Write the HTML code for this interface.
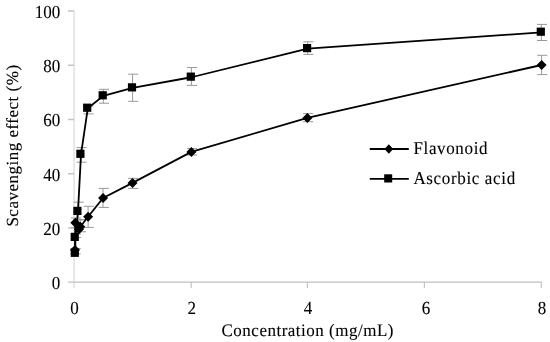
<!DOCTYPE html>
<html><head><meta charset="utf-8"><style>
html,body{margin:0;padding:0;background:#fff;width:550px;height:342px;overflow:hidden}
svg{display:block;filter:blur(0.35px)}
text{font-family:"Liberation Serif",serif;fill:#000;stroke:#000;stroke-width:0.1px;text-rendering:geometricPrecision}
</style></head><body>
<svg width="550" height="342" viewBox="0 0 550 342">
<rect width="550" height="342" fill="#fff"/>
<g fill="none">
<path d="M74.1 10.5V288" stroke="#e6e6e6" stroke-width="1.8"/>
<path d="M68 282.1H541.8" stroke="#c0c0c0" stroke-width="1.4"/>
<path d="M68 11H74M68 65.2H74M68 119.5H74M68 173.7H74M68 228H74" stroke="#c4c4c4" stroke-width="1.4"/>
<path d="M191.2 282V288M307.4 282V288M424.4 282V288M541.3 282V288" stroke="#c4c4c4" stroke-width="1.2"/>
</g>
<g font-size="17" text-anchor="end"><text transform="translate(60.2,289.00) scale(1,1.08)">0</text><text transform="translate(60.2,234.78) scale(1,1.08)">20</text><text transform="translate(60.2,180.56) scale(1,1.08)">40</text><text transform="translate(60.2,126.34) scale(1,1.08)">60</text><text transform="translate(60.2,72.12) scale(1,1.08)">80</text><text transform="translate(60.2,17.90) scale(1,1.08)">100</text></g>
<g font-size="17" text-anchor="middle"><text transform="translate(74.5,314.2) scale(1,1.08)">0</text><text transform="translate(191.75,314.2) scale(1,1.08)">2</text><text transform="translate(308.05,314.2) scale(1,1.08)">4</text><text transform="translate(425.9,314.2) scale(1,1.08)">6</text><text transform="translate(542.1,314.2) scale(1,1.08)">8</text></g>
<text transform="translate(221.5,336.3) scale(1,1.03)" font-size="17" letter-spacing="0.5">Concentration (mg/mL)</text>
<text transform="translate(18.4,226.6) rotate(-90)" font-size="17" letter-spacing="0.5">Scavenging effect (%)</text>
<path fill="none" stroke="#999999" stroke-width="1" d="M75.3 234.0V237.6M70.9 234.0H81.0M70.9 237.6H81.0M78.0 202.2V220.0M73.6 202.2H83.7M73.6 220.0H83.7M81.0 147.6V162.2M76.6 147.6H86.7M76.6 162.2H86.7M87.8 106.0V113.9M83.4 106.0H93.5M83.4 113.9H93.5M103.3 89.3V103.2M98.9 89.3H109.0M98.9 103.2H109.0M132.6 74.2V101.3M128.2 74.2H138.3M128.2 101.3H138.3M191.4 67.5V85.4M187.0 67.5H197.1M187.0 85.4H197.1M307.7 41.8V54.4M303.3 41.8H313.4M303.3 54.4H313.4M541.4 24.4V40.5M537.0 24.4H547.1M537.0 40.5H547.1M75.0 248.5V253.8M70.6 248.5H80.7M70.6 253.8H80.7M75.3 218.0V227.7M70.9 218.0H81.0M70.9 227.7H81.0M80.3 219.5V231.8M75.9 219.5H86.0M75.9 231.8H86.0M88.1 206.3V227.4M83.7 206.3H93.8M83.7 227.4H93.8M103.0 188.4V207.4M98.6 188.4H108.8M98.6 207.4H108.8M132.5 178.4V188.4M128.1 178.4H138.2M128.1 188.4H138.2M191.4 148.6V155.0M187.0 148.6H197.1M187.0 155.0H197.1M307.4 113.6V121.7M303.0 113.6H313.1M303.0 121.7H313.1M541.6 55.3V74.6M537.2 55.3H547.3M537.2 74.6H547.3"/>
<g fill="none" stroke="#000" stroke-width="1.8" stroke-linejoin="round">
<polyline points="75.40,253.40 75.35,237.50 78.00,211.50 81.00,154.40 87.80,108.30 103.30,95.90 132.60,87.95 191.40,77.25 307.70,48.70 541.40,32.30"/>
<polyline points="75.00,249.90 75.30,222.80 79.00,229.20 80.30,226.80 88.10,216.70 103.05,198.00 132.50,182.90 191.40,151.90 307.40,117.90 541.60,65.00"/>
</g>
<g fill="#000"><rect x="70.70" y="248.70" width="8.2" height="8.2"/><rect x="70.65" y="232.80" width="8.2" height="8.2"/><rect x="73.30" y="206.80" width="8.2" height="8.2"/><rect x="76.30" y="149.70" width="8.2" height="8.2"/><rect x="83.10" y="103.60" width="8.2" height="8.2"/><rect x="98.60" y="91.20" width="8.2" height="8.2"/><rect x="127.90" y="83.25" width="8.2" height="8.2"/><rect x="186.70" y="72.55" width="8.2" height="8.2"/><rect x="303.00" y="44.00" width="8.2" height="8.2"/><rect x="536.70" y="27.60" width="8.2" height="8.2"/></g>
<g fill="#000"><path d="M75.00 244.90l5.0 5.0l-5.0 5.0l-5.0 -5.0z"/><path d="M75.30 217.80l5.0 5.0l-5.0 5.0l-5.0 -5.0z"/><path d="M79.00 224.20l5.0 5.0l-5.0 5.0l-5.0 -5.0z"/><path d="M80.30 221.80l5.0 5.0l-5.0 5.0l-5.0 -5.0z"/><path d="M88.10 211.70l5.0 5.0l-5.0 5.0l-5.0 -5.0z"/><path d="M103.05 193.00l5.0 5.0l-5.0 5.0l-5.0 -5.0z"/><path d="M132.50 177.90l5.0 5.0l-5.0 5.0l-5.0 -5.0z"/><path d="M191.40 146.90l5.0 5.0l-5.0 5.0l-5.0 -5.0z"/><path d="M307.40 112.90l5.0 5.0l-5.0 5.0l-5.0 -5.0z"/><path d="M541.60 60.00l5.0 5.0l-5.0 5.0l-5.0 -5.0z"/></g>
<g stroke="#000" stroke-width="1.8">
<path d="M369.8 149H408.8"/>
<path d="M369.8 178.9H408.8"/>
</g>
<path d="M388.85 144.3l4.4 4.7l-4.4 4.7l-4.4 -4.7z" fill="#000"/>
<rect x="384.2" y="174.3" width="8" height="8.2" fill="#000"/>
<text transform="translate(413.4,154) scale(1,1.06)" font-size="17" letter-spacing="0.65">Flavonoid</text>
<text transform="translate(413.4,183.8) scale(1,1.06)" font-size="17" letter-spacing="0.65">Ascorbic acid</text>
</svg>
</body></html>
